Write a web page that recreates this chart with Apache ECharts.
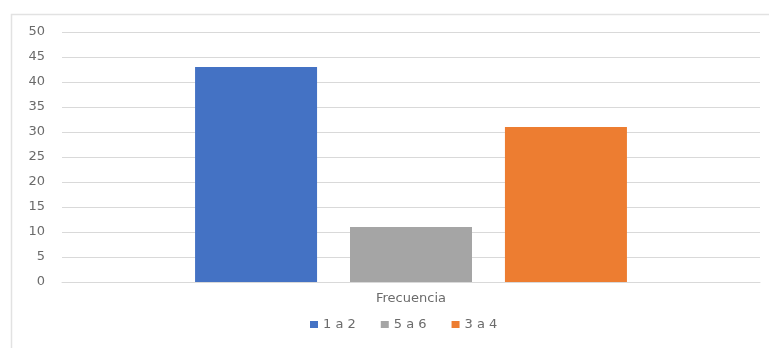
<!DOCTYPE html>
<html><head><meta charset="utf-8">
<script src="https://cdn.jsdelivr.net/npm/echarts@6/dist/echarts.min.js"></script>
<style>html,body{margin:0;padding:0;background:#fff}#c{width:769px;height:348px}</style>
</head><body><div id="c"></div>
<script>
const categories = ['Frecuencia'];
const seriesNames = ['1 a 2', '5 a 6', '3 a 4'];
const seriesValues = [[43], [11], [31]];
const colors = ['#4472C4', '#A5A5A5', '#ED7D31'];
const yTicks = [0, 5, 10, 15, 20, 25, 30, 35, 40, 45, 50];

const txt = '#6b6b6b';
const chart = echarts.init(document.getElementById('c'));
chart.setOption({
  animation: false,
  textStyle: { fontFamily: 'DejaVu Sans, sans-serif' },
  graphic: [{
    type: 'rect', shape: { x: 11.5, y: 14.5, width: 800, height: 400 },
    style: { fill: 'none', stroke: '#e2e2e2', lineWidth: 1.5 }, silent: true, z: -1
  }],
  grid: { left: 62, right: 9, top: 32, bottom: 66 },
  legend: {
    data: seriesNames, bottom: 12, left: 305, itemWidth: 8, itemHeight: 7,
    itemGap: 25, icon: 'rect',
    textStyle: { color: txt, fontSize: 13 }
  },
  xAxis: {
    type: 'category', data: categories,
    axisLine: { lineStyle: { color: '#d9d9d9' } }, axisTick: { show: false },
    axisLabel: { color: txt, fontSize: 13, margin: 10 }
  },
  yAxis: {
    type: 'value', min: yTicks[0], max: yTicks[yTicks.length - 1], interval: 5,
    axisLine: { show: false }, axisTick: { show: false },
    axisLabel: { color: txt, fontSize: 13, margin: 17 },
    splitLine: { lineStyle: { color: '#d9d9d9' } }
  },
  series: seriesNames.map((n, i) => ({
    name: n, type: 'bar', data: seriesValues[i], barWidth: 122, barGap: '27%',
    itemStyle: { color: colors[i] }
  }))
});
</script></body></html>
